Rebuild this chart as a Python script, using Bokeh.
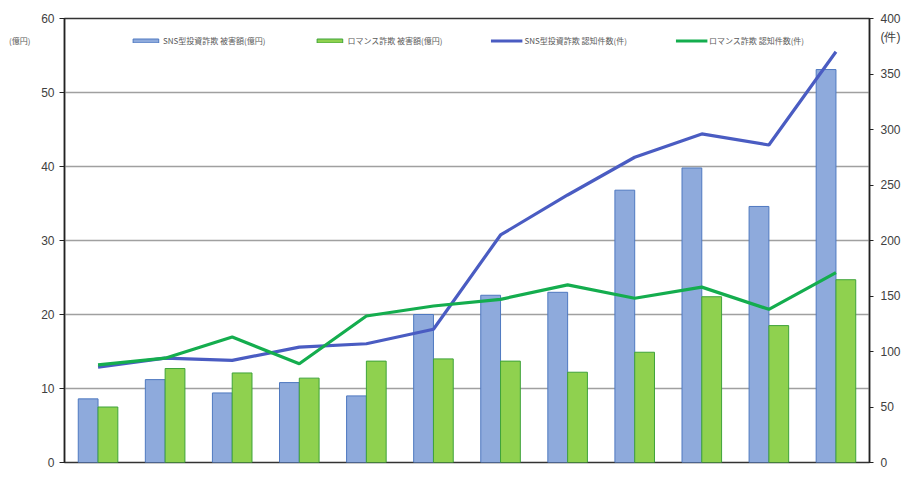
from bokeh.plotting import figure
from bokeh.models import Range1d, LinearAxis, Legend, LegendItem, FixedTicker, ColumnDataSource
from bokeh.embed import file_html
from bokeh.resources import INLINE

# ---- data ----
periods = ["1", "2", "3", "4", "5", "6", "7", "8", "9", "10", "11", "12"]
sns_amount = [8.6, 11.2, 9.4, 10.8, 9.0, 20.0, 22.6, 23.0, 36.8, 39.8, 34.6, 53.1]      # 億円
romance_amount = [7.5, 12.7, 12.1, 11.4, 13.7, 14.0, 13.7, 12.2, 14.9, 22.4, 18.5, 24.7]  # 億円
sns_count = [86, 94, 92, 104, 107, 120, 205, 241, 275, 296, 286, 370]    # 件
romance_count = [88, 94, 113, 89, 132, 141, 147, 160, 148, 158, 138, 171]  # 件

legend_labels = ["SNS型投資詐欺 被害額(億円)", "ロマンス詐欺 被害額(億円)",
                 "SNS型投資詐欺 認知件数(件)", "ロマンス詐欺 認知件数(件)"]
left_unit = "(億円)"
right_unit = "(件)"
left_ticks = [0, 10, 20, 30, 40, 50, 60]
right_ticks = [0, 50, 100, 150, 200, 250, 300, 350, 400]

n = len(periods)
bar_w = 0.295
centers = [i + 0.5 for i in range(n)]
src = ColumnDataSource(dict(
    period=periods,
    xc=centers,
    xb=[c - bar_w / 2 for c in centers],
    xg=[c + bar_w / 2 for c in centers],
    sns_amount=sns_amount,
    romance_amount=romance_amount,
    sns_count=sns_count,
    romance_count=romance_count,
))

FONT = "Noto Sans CJK JP"

p = figure(width=903, height=469, x_range=Range1d(0, n), y_range=Range1d(0, 60),
           output_backend="svg", toolbar_location=None,
           min_border_left=64, min_border_right=25, min_border_top=18, min_border_bottom=7)
p.extra_y_ranges = {"cnt": Range1d(0, 400)}

p.background_fill_color = "white"
p.border_fill_color = "white"
p.outline_line_color = "#333333"
p.outline_line_width = 1.5

p.xaxis.visible = False
p.xgrid.visible = False

p.yaxis.ticker = FixedTicker(ticks=left_ticks)
p.ygrid.grid_line_color = "#a0a0a0"
p.ygrid.grid_line_width = 1.5

for ax in p.yaxis:
    ax.major_tick_out = 5
    ax.major_tick_in = 0
    ax.minor_tick_line_color = None
    ax.axis_line_color = "#222222"
    ax.axis_line_width = 1.5
    ax.major_tick_line_color = "#222222"
    ax.major_label_text_font = "Liberation Sans"
    ax.major_label_text_font_size = "12px"
    ax.major_label_text_color = "#404040"
    ax.major_label_standoff = 5

# unit caption on the left: a bare axis holding a single label, stacked outside the value axis
uax = LinearAxis(ticker=FixedTicker(ticks=[57]), major_label_overrides={57: left_unit})
uax.axis_line_color = None
uax.major_tick_line_color = None
uax.minor_tick_line_color = None
uax.major_label_standoff = 2
uax.major_label_text_font = FONT
uax.major_label_text_font_size = "8px"
uax.major_label_text_color = "#595959"
p.add_layout(uax, "left")

# right axis: tick marks drawn as "minor" ticks so that the unit caption gets no tick mark
rax = LinearAxis(y_range_name="cnt",
                 ticker=FixedTicker(ticks=right_ticks + [383], minor_ticks=right_ticks),
                 major_label_overrides={383: right_unit})
rax.major_tick_out = 0
rax.major_tick_in = 0
rax.minor_tick_out = 4
rax.minor_tick_in = 0
rax.minor_tick_line_color = "#222222"
rax.minor_tick_line_width = 1
rax.axis_line_color = "#222222"
rax.axis_line_width = 1.5
rax.major_label_text_font = "Liberation Sans"
rax.major_label_text_font_size = "12px"
rax.major_label_text_color = "#404040"
rax.major_label_standoff = 7
p.add_layout(rax, "right")

r1 = p.vbar(x="xb", top="sns_amount", width=bar_w, source=src,
            fill_color="#8eaadc", line_color="#4f79c0", line_width=1)
r2 = p.vbar(x="xg", top="romance_amount", width=bar_w, source=src,
            fill_color="#8fd14f", line_color="#3fa33a", line_width=1)
r3 = p.line(x="xc", y="sns_count", source=src, y_range_name="cnt",
            line_color="#4a5cc2", line_width=3.2)
r4 = p.line(x="xc", y="romance_count", source=src, y_range_name="cnt",
            line_color="#14ad4e", line_width=3.2)

legend = Legend(items=[LegendItem(label=legend_labels[0], renderers=[r1]),
                       LegendItem(label=legend_labels[1], renderers=[r2]),
                       LegendItem(label=legend_labels[2], renderers=[r3]),
                       LegendItem(label=legend_labels[3], renderers=[r4])],
                orientation="horizontal", location="top_center",
                glyph_width=32, glyph_height=5, label_standoff=2, spacing=48,
                padding=2, margin=17, border_line_color=None,
                background_fill_alpha=0,
                label_text_font=FONT, label_text_font_size="8px",
                label_text_color="#595959", label_height=10)
p.add_layout(legend, "center")

open("out.html", "w").write(file_html(p, INLINE))
